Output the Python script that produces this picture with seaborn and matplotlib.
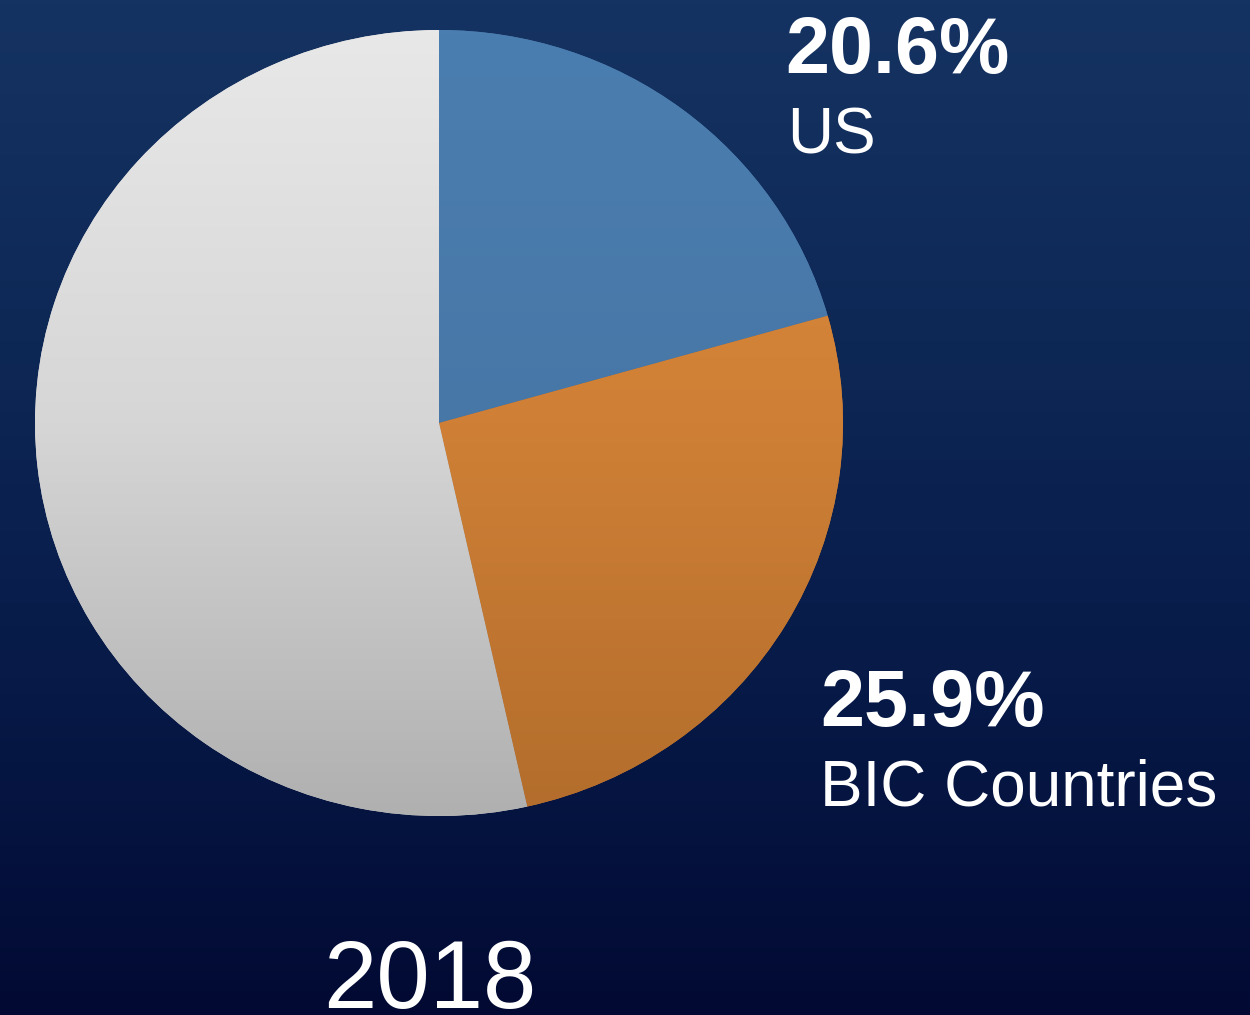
import numpy as np
import matplotlib
matplotlib.use("Agg")
import matplotlib.pyplot as plt
from matplotlib.colors import LinearSegmentedColormap
import seaborn as sns

# ---- data ----
categories = ["US", "BIC Countries", "Rest of World"]
shares = [20.6, 25.9, 53.5]
pct_labels = ["20.6%", "25.9%"]
name_labels = ["US", "BIC Countries"]
year_label = "2018"

sns.set_theme(style="white")
plt.rcParams['font.family'] = ['Liberation Sans', 'DejaVu Sans']

W, H, DPI = 1250, 1015, 100
fig = plt.figure(figsize=(W / DPI, H / DPI), dpi=DPI)

# background gradient
bg = fig.add_axes([0, 0, 1, 1], zorder=0)
bg_cmap = LinearSegmentedColormap.from_list("bg", ["#153362", "#0e2856", "#071a48", "#020a33"])
grad = np.linspace(0, 1, 256).reshape(-1, 1)
bg.imshow(grad, cmap=bg_cmap, aspect="auto", extent=(0, 1, 0, 1), origin="upper")
bg.set_axis_off()

# pie axes (slightly wider than tall, like the reference)
cx, cy, rx, ry = 439, 423, 404, 393
ax = fig.add_axes([(cx - rx) / W, (H - cy - ry) / H, 2 * rx / W, 2 * ry / H], zorder=1)
ax.patch.set_alpha(0)

base_colors = ["#4a7aaa", "#cc7d35", "#d0d0d0"]
wedges, _ = ax.pie(shares, colors=base_colors, startangle=90, counterclock=False,
                   radius=1.0, wedgeprops=dict(linewidth=0))

# shading gradients clipped to each wedge (top -> bottom)
grad_sets = [
    ["#4b7eb0", "#4777a7", "#43709d"],
    ["#dc8c3a", "#cf8036", "#b36d2c"],
    ["#e8e8e8", "#d6d6d6", "#b0b0b0"],
]
yy = np.linspace(0, 1, 300).reshape(-1, 1)
for w, cols in zip(wedges, grad_sets):
    cm = LinearSegmentedColormap.from_list("g", cols)
    im = ax.imshow(yy, cmap=cm, extent=(-1, 1, -1, 1), origin="upper",
                   aspect="auto", zorder=2, vmin=0, vmax=1)
    im.set_clip_path(w)
ax.set_xlim(-1, 1)
ax.set_ylim(-1, 1)
ax.set_aspect("auto")
ax.set_axis_off()

# text labels (figure pixel coords)
def fx(x):
    return x / W

def fy(y):
    return 1 - y / H

fig.text(fx(785), fy(73), pct_labels[0], color="white", fontsize=57, fontweight="bold",
         ha="left", va="baseline", zorder=5)
fig.text(fx(787), fy(153), name_labels[0], color="white", fontsize=46,
         ha="left", va="baseline", zorder=5)
fig.text(fx(820), fy(726), pct_labels[1], color="white", fontsize=57, fontweight="bold",
         ha="left", va="baseline", zorder=5)
fig.text(fx(820), fy(806), name_labels[1], color="white", fontsize=46,
         ha="left", va="baseline", zorder=5)
fig.text(fx(430), fy(1008), year_label, color="white", fontsize=69,
         ha="center", va="baseline", zorder=5)

fig.savefig("out.png", dpi=DPI)
